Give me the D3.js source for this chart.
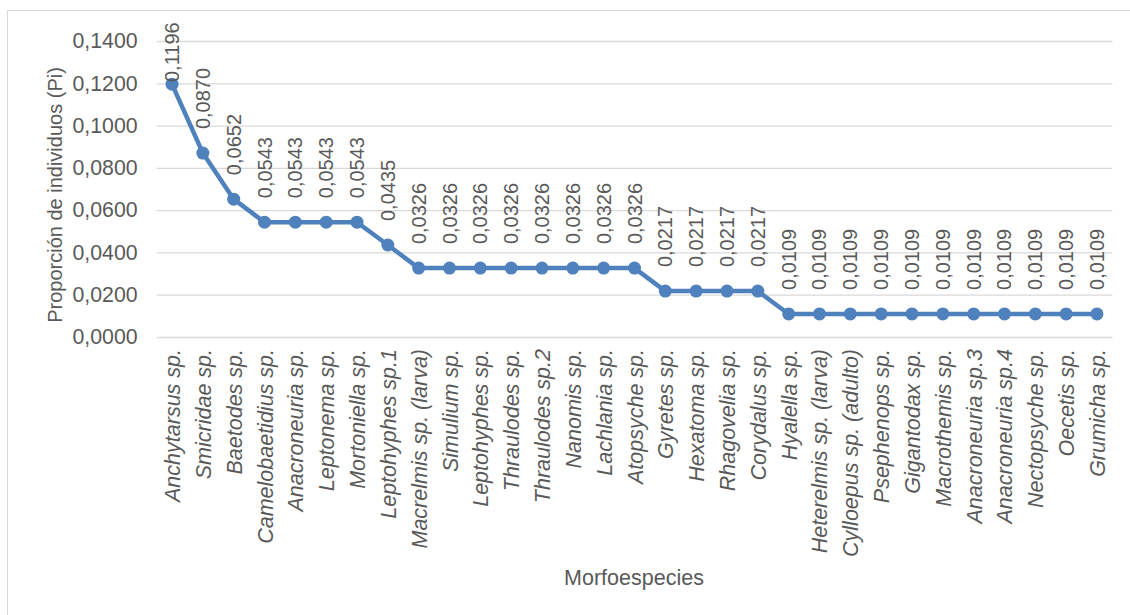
<!DOCTYPE html>
<html>
<head>
<meta charset="utf-8">
<script src="https://cdn.jsdelivr.net/npm/d3@7"></script>
<style>
  body { margin: 0; background: #fff; }
  svg text { font-family: "Liberation Sans", Arial, sans-serif; fill: #595959; }
</style>
</head>
<body>
<div id="chart"></div>
<script>
const especies = [
  "Anchytarsus sp.", "Smicridae sp.", "Baetodes sp.", "Camelobaetidius sp.",
  "Anacroneuria sp.", "Leptonema sp.", "Mortoniella sp.", "Leptohyphes sp.1",
  "Macrelmis sp. (larva)", "Simulium sp.", "Leptohyphes sp.", "Thraulodes sp.",
  "Thraulodes sp.2", "Nanomis sp.", "Lachlania sp.", "Atopsyche sp.",
  "Gyretes sp.", "Hexatoma sp.", "Rhagovelia sp.", "Corydalus sp.",
  "Hyalella sp.", "Heterelmis sp. (larva)", "Cylloepus sp. (adulto)", "Psephenops sp.",
  "Gigantodax sp.", "Macrothemis sp.", "Anacroneuria sp.3", "Anacroneuria sp.4",
  "Nectopsyche sp.", "Oecetis sp.", "Grumicha sp."
];
const pi = [
  0.1196, 0.0870, 0.0652, 0.0543, 0.0543, 0.0543, 0.0543, 0.0435,
  0.0326, 0.0326, 0.0326, 0.0326, 0.0326, 0.0326, 0.0326, 0.0326,
  0.0217, 0.0217, 0.0217, 0.0217,
  0.0109, 0.0109, 0.0109, 0.0109, 0.0109, 0.0109, 0.0109, 0.0109, 0.0109, 0.0109, 0.0109
];
const yTicks = [0, 0.02, 0.04, 0.06, 0.08, 0.10, 0.12, 0.14];

const width = 1130, height = 615;
const margin = { top: 41, right: 17.6, bottom: 278, left: 156.6 };
const fmt = v => v.toFixed(4).replace(".", ",");

const svg = d3.select("#chart").append("svg")
  .attr("width", width)
  .attr("height", height);

// chart border
svg.append("rect")
  .attr("x", 7.5).attr("y", 10.5)
  .attr("width", 1140).attr("height", 640)
  .attr("fill", "none").attr("stroke", "#d9d9d9");

const x = d3.scaleBand()
  .domain(especies)
  .range([margin.left, width - margin.right]);
const y = d3.scaleLinear()
  .domain([0, 0.14])
  .range([height - margin.bottom, margin.top]);

// grid + y labels
svg.append("g")
  .attr("transform", `translate(${margin.left},0)`)
  .call(d3.axisLeft(y).tickValues(yTicks).tickFormat(fmt)
    .tickSize(-(width - margin.left - margin.right)).tickPadding(19))
  .call(g => g.select(".domain").remove())
  .call(g => g.selectAll(".tick line").attr("stroke", "#d9d9d9").attr("stroke-width", 1.3))
  .call(g => g.selectAll(".tick text").attr("font-size", 21.3).style("font-family", null));

// category labels
svg.append("g")
  .selectAll("text")
  .data(especies)
  .join("text")
    .attr("transform", d => `translate(${x(d) + x.bandwidth() / 2 + 8},${y(0) + 12}) rotate(-90)`)
    .attr("text-anchor", "end")
    .attr("font-size", 21.5)
    .attr("font-style", "italic")
    .text(d => d);

const pts = especies.map((d, i) => [x(d) + x.bandwidth() / 2, y(pi[i])]);

svg.append("path")
  .datum(pts)
  .attr("fill", "none")
  .attr("stroke", "#4f81bd")
  .attr("stroke-width", 4.5)
  .attr("stroke-linejoin", "round")
  .attr("d", d3.line());

svg.append("g")
  .selectAll("circle")
  .data(pts)
  .join("circle")
    .attr("cx", d => d[0])
    .attr("cy", d => d[1])
    .attr("r", 6.5)
    .attr("fill", "#4f81bd");

// data labels
svg.append("g")
  .selectAll("text")
  .data(pi)
  .join("text")
    .attr("transform", (v, i) => `translate(${pts[i][0] + 7},${Math.max(pts[i][1] - 24, 82)}) rotate(-90)`)
    .attr("font-size", 20)
    .text(v => fmt(v));

// axis titles
svg.append("text")
  .attr("transform", `translate(62,195) rotate(-90)`)
  .attr("text-anchor", "middle")
  .attr("font-size", 20)
  .text("Proporción de individuos (Pi)");

svg.append("text")
  .attr("x", 634)
  .attr("y", 585)
  .attr("text-anchor", "middle")
  .attr("font-size", 21.5)
  .text("Morfoespecies");
</script>
</body>
</html>
